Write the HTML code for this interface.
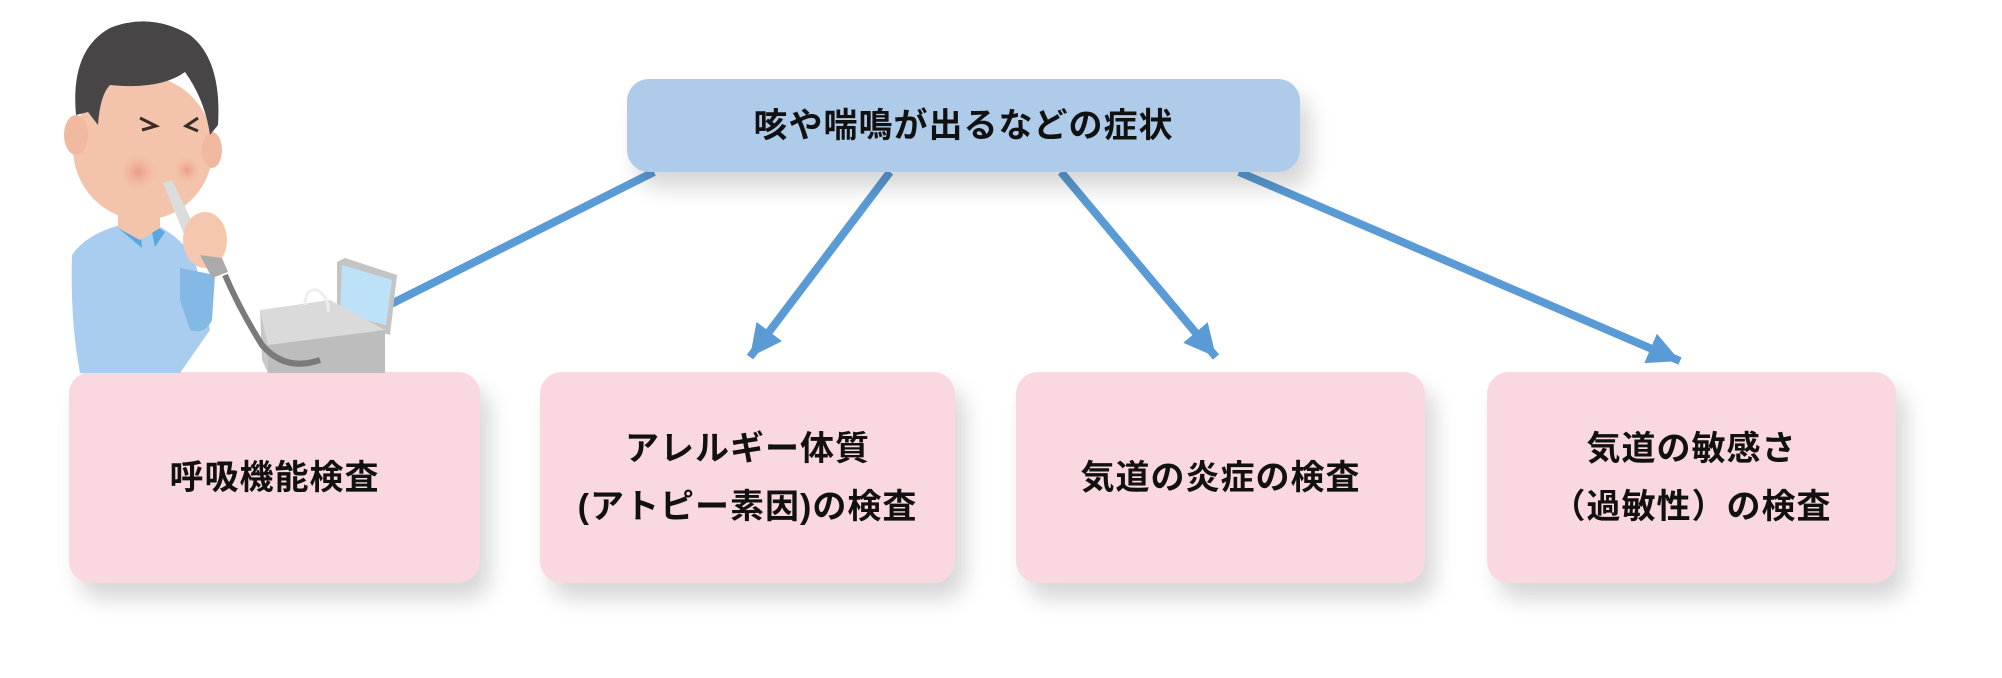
<!DOCTYPE html>
<html><head><meta charset="utf-8">
<style>
html,body{margin:0;padding:0;background:#fff;}
body{width:2002px;height:678px;position:relative;overflow:hidden;font-family:"Liberation Sans","Noto Sans CJK JP",sans-serif;font-weight:bold;color:#111;}
.box{position:absolute;border-radius:22px;box-shadow:10px 16px 22px rgba(0,0,0,0.16);display:flex;flex-direction:column;align-items:center;justify-content:center;font-size:34px;letter-spacing:1px;line-height:58px;text-align:center;}
.top{left:627px;top:79px;width:673px;height:93px;background:#aecbe9;}
.pink{background:#fad8e0;top:372px;height:211px;}
svg{position:absolute;left:0;top:0;}
</style></head><body>
<svg width="2002" height="678" style="z-index:0">
<defs>
<marker id="ah" markerUnits="userSpaceOnUse" markerWidth="40" markerHeight="40" refX="32" refY="16" orient="auto">
<path d="M0,0 L32,16 L0,32 Z" fill="#5b9bd5"/>
</marker>
</defs>
<g stroke="#5b9bd5" stroke-width="8" fill="none">
<line x1="654" y1="172" x2="385" y2="307"/>
<line x1="890" y1="172" x2="750" y2="357" marker-end="url(#ah)"/>
<line x1="1061" y1="172" x2="1216" y2="357" marker-end="url(#ah)"/>
<line x1="1239" y1="172" x2="1680" y2="361" marker-end="url(#ah)"/>
</g>
</svg>
<div class="box top" style="z-index:1">咳や喘鳴が出るなどの症状</div>
<div class="box pink" style="left:69px;width:411px;z-index:1">呼吸機能検査</div>
<div class="box pink" style="left:540px;width:415px;z-index:1"><div>アレルギー体質</div><div>(アトピー素因)の検査</div></div>
<div class="box pink" style="left:1016px;width:409px;z-index:1">気道の炎症の検査</div>
<div class="box pink" style="left:1487px;width:409px;z-index:1"><div>気道の敏感さ</div><div>（過敏性）の検査</div></div>
<svg width="420" height="380" style="z-index:2">
<!-- device -->
<polygon points="337,262 345,258 397,275 390,335 337,320" fill="#c4c4c4"/>
<polygon points="342,265 392,280 386,325 340,313" fill="#bde2f7"/>
<polygon points="260,310 330,300 385,330 385,373 268,373" fill="#dadada"/>
<polygon points="268,345 385,330 385,373 268,373" fill="#bdbdbd"/>
<polygon points="260,310 268,345 268,373 262,360" fill="#c8c8c8"/>
<path d="M305,305 Q305,288 318,290 Q330,300 328,312" stroke="#eee" stroke-width="3" fill="none"/>
<!-- body -->
<path d="M72,255 Q85,235 120,225 L150,222 Q180,235 195,260 L210,330 L180,373 L80,373 Q70,320 72,255 Z" fill="#a9cdee"/>
<path d="M180,268 L215,275 L212,320 Q205,335 190,330 L180,300 Z" fill="#84b8e5"/>
<polygon points="118,228 140,222 142,248 " fill="#5aa7e0"/>
<polygon points="150,222 165,232 155,247" fill="#5aa7e0"/>
<!-- neck -->
<path d="M118,205 L160,205 L160,228 L140,240 L118,228 Z" fill="#f3c4ab"/>
<!-- face -->
<ellipse cx="143" cy="148" rx="70" ry="72" fill="#f3c4ab"/>
<ellipse cx="76" cy="135" rx="12" ry="20" fill="#f0b9a0"/>
<ellipse cx="212" cy="150" rx="10" ry="18" fill="#f0b9a0"/>
<radialGradient id="ch"><stop offset="0" stop-color="#ee9a88"/><stop offset="1" stop-color="#f3c4ab" stop-opacity="0"/></radialGradient>
<circle cx="138" cy="172" r="22" fill="url(#ch)"/>
<circle cx="187" cy="170" r="16" fill="url(#ch)"/>
<!-- hair -->
<path d="M76,115 Q70,50 110,28 Q150,12 190,35 Q222,60 218,125 L210,135 Q205,100 185,72 Q160,90 110,85 Q100,95 98,125 L88,112 Z" fill="#474546"/>
<!-- eyes -->
<path d="M140,118 L156,126 L142,130" stroke="#3a2b26" stroke-width="3" fill="none"/>
<path d="M198,118 L186,126 L198,131" stroke="#3a2b26" stroke-width="3" fill="none"/>
<!-- mouthpiece -->
<polygon points="163,183 172,180 200,238 188,244" fill="#dcdcdc"/>
<!-- hand -->
<ellipse cx="205" cy="240" rx="22" ry="28" fill="#f5c7ae"/>
<polygon points="200,255 222,258 228,272 212,278" fill="#aaa"/>
<!-- cable -->
<path d="M225,275 Q240,310 262,345 Q285,372 320,360" stroke="#7a7a7a" stroke-width="6" fill="none"/>
</svg>
</body></html>
